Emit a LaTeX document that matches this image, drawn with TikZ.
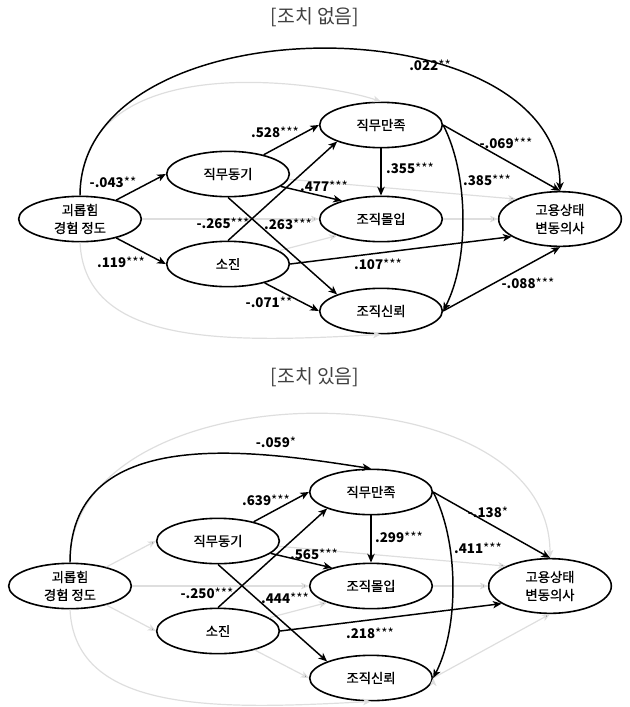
\documentclass[tikz,border=0pt]{standalone}
\usepackage{fontspec}
\setmainfont{Noto Sans CJK KR}
\newfontfamily\varfont[FakeBold=0.8]{Noto Sans CJK KR}
\usetikzlibrary{shapes.geometric,positioning,arrows.meta}

\newcommand{\starmark}[1]{\textmd{#1}}

\tikzset{
  var/.style={ellipse,draw,line width=1.2pt,fill=white,minimum width=92pt,minimum height=34pt,
    inner sep=0pt,align=center,font=\varfont\fontsize{10}{13.5}\selectfont},
  sig/.style={-{Stealth[length=6.5pt,width=5.5pt,inset=1.8pt]},line width=1.1pt},
  ns/.style={-{Stealth[length=6pt,width=5pt,inset=1.6pt]},line width=0.9pt,draw=black!13},
  coef/.style={inner sep=0pt,font=\bfseries\fontsize{10}{12}\selectfont},
  panel/.style={text=black!75,font=\fontsize{14.5}{17}\selectfont}
}

\begin{document}
\begin{tikzpicture}[x=0.75pt,y=-0.75pt,on grid]
  \useasboundingbox (0,0) rectangle (629,707);

  % [조치 없음]
  \node[panel] (title-a) at (315,17) {[조치 없음]};
  \node[var] (harass-a) at (80,219) {괴롭힘\\경험 정도};
  \node[var] (motiv-a) [above right=33.75pt and 111pt of harass-a] {직무동기};
  \node[var] (burn-a) [below right=33.75pt and 111pt of harass-a] {소진};
  \node[var] (sat-a) [above right=36.75pt and 114.75pt of motiv-a] {직무만족};
  \node[var] (commit-a) [below=70.5pt of sat-a] {조직몰입};
  \node[var] (trust-a) [below=69pt of commit-a] {조직신뢰};
  \node[var,minimum height=41pt] (turn-a) [right=134.25pt of commit-a] {고용상태\\변동의사};

  \path[ns] (harass-a) edge (commit-a)
            (motiv-a) edge (turn-a.north west)
            (burn-a) edge (commit-a.south west)
            (commit-a) edge (turn-a);
  \draw[ns] (harass-a.north) .. controls +(0,-150) and +(-60,-20) .. (sat-a.north);
  \draw[ns] (harass-a.south) .. controls +(5,105) and +(-150,8) .. (trust-a.south);

  \path[sig] (harass-a) edge (motiv-a.west)
             (harass-a) edge (burn-a.west)
             (motiv-a) edge (sat-a.west)
             (motiv-a) edge (commit-a.155)
             (motiv-a.south) edge (trust-a.north west)
             (burn-a.north) edge (sat-a.south west)
             (burn-a.east) edge (turn-a.200)
             (burn-a) edge (trust-a.west)
             (sat-a) edge (commit-a)
             (sat-a.east) edge (turn-a.north)
             (trust-a.east) edge (turn-a.south);
  \draw[sig] (harass-a.north) .. controls +(0,-195) and +(0,-190) .. (turn-a.north);
  \draw[sig] (sat-a.east) .. controls +(26,50) and +(26,-50) .. (trust-a.east);

  \node[coef] (c-a1) at (430,65) {.022\starmark{**}};
  \node[coef] (c-a2) at (113,182) {-.043\starmark{**}};
  \node[coef] (c-a3) at (121,262) {.119\starmark{***}};
  \node[coef] (c-a4) at (275,132) {.528\starmark{***}};
  \node[coef] (c-a5) at (324,186) {.477\starmark{***}};
  \node[coef] (c-a6) at (223,223) {-.265\starmark{***}};
  \node[coef] (c-a7) at (288,224) {.263\starmark{***}};
  \node[coef] (c-a8) at (410,168) {.355\starmark{***}};
  \node[coef] (c-a9) at (487,180) {.385\starmark{***}};
  \node[coef] (c-a10) at (506,143) {-.069\starmark{***}};
  \node[coef] (c-a11) at (378,264) {.107\starmark{***}};
  \node[coef] (c-a12) at (528,283) {-.088\starmark{***}};
  \node[coef] (c-a13) at (269,302) {-.071\starmark{**}};

  % [조치 있음]
  \node[panel] (title-b) at (315,377) {[조치 있음]};
  \node[var] (harass-b) at (70,586) {괴롭힘\\경험 정도};
  \node[var] (motiv-b) [above right=33.75pt and 111pt of harass-b] {직무동기};
  \node[var] (burn-b) [below right=33.75pt and 111pt of harass-b] {소진};
  \node[var] (sat-b) [above right=36.75pt and 114.75pt of motiv-b] {직무만족};
  \node[var] (commit-b) [below=70.5pt of sat-b] {조직몰입};
  \node[var] (trust-b) [below=69pt of commit-b] {조직신뢰};
  \node[var,minimum height=41pt] (turn-b) [right=134.25pt of commit-b] {고용상태\\변동의사};

  \path[ns] (harass-b) edge (motiv-b.west)
            (harass-b) edge (burn-b.west)
            (harass-b) edge (commit-b)
            (motiv-b) edge (turn-b.north west)
            (burn-b) edge (commit-b.south west)
            (burn-b) edge (trust-b.west)
            (commit-b) edge (turn-b)
            (trust-b.east) edge (turn-b.south);
  \draw[ns] (harass-b.north) .. controls +(0,-195) and +(0,-195) .. (turn-b.north);
  \draw[ns] (harass-b.south) .. controls +(5,105) and +(-150,8) .. (trust-b.south);

  \path[sig] (motiv-b) edge (sat-b.west)
             (motiv-b) edge (commit-b.155)
             (motiv-b.south) edge (trust-b.north west)
             (burn-b.north) edge (sat-b.south west)
             (burn-b.east) edge (turn-b.200)
             (sat-b) edge (commit-b)
             (sat-b.east) edge (turn-b.north);
  \draw[sig] (harass-b.north) .. controls +(0,-145) and +(-100,-15) .. (sat-b.north);
  \draw[sig] (sat-b.east) .. controls +(26,50) and +(26,-50) .. (trust-b.east);

  \node[coef] (c-b1) at (276,442) {-.059\starmark{*}};
  \node[coef] (c-b2) at (266,500) {.639\starmark{***}};
  \node[coef] (c-b3) at (314,554) {.565\starmark{***}};
  \node[coef] (c-b4) at (207,593) {-.250\starmark{***}};
  \node[coef] (c-b5) at (285,598) {.444\starmark{***}};
  \node[coef] (c-b6) at (399,537) {.299\starmark{***}};
  \node[coef] (c-b7) at (478,548) {.411\starmark{***}};
  \node[coef] (c-b8) at (488,512) {-.138\starmark{*}};
  \node[coef] (c-b9) at (370,633) {.218\starmark{***}};
\end{tikzpicture}
\end{document}
